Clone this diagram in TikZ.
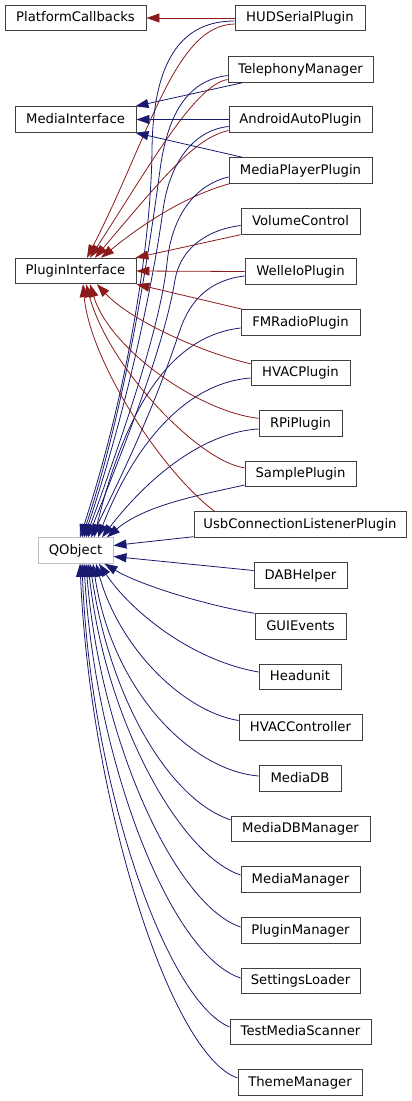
\documentclass[tikz,border=0pt]{standalone}
\usepackage{fontspec}
\setmainfont{DejaVu Sans}
\usetikzlibrary{arrows.meta,calc}
\definecolor{dxblue}{RGB}{25,25,112}
\definecolor{dxred}{RGB}{139,26,26}
\definecolor{boxline}{RGB}{64,64,64}
\definecolor{qline}{RGB}{191,191,191}
\tikzset{
  cls/.style={draw=boxline, line width=0.9pt, fill=white, inner sep=0pt,
    minimum height=25.5pt, text height=10pt, text depth=2.6pt,
    font=\fontsize{13.2}{15}\selectfont},
  qcls/.style={cls, draw=qline},
  bluarr/.style={draw=dxblue, line width=0.8pt, -{Triangle[length=13pt,width=9pt]}},
  redarr/.style={draw=dxred, line width=0.8pt, -{Triangle[length=13pt,width=9pt]}}
}
\begin{document}
\begin{tikzpicture}[x=1pt,y=-1pt]
\useasboundingbox (0,0) rectangle (412,1101);
% parents
\node[cls, minimum width=141pt] (pc) at (75.5,18) {PlatformCallbacks};
\node[cls, minimum width=121pt] (mi) at (75.5,119.5) {MediaInterface};
\node[cls, minimum width=121pt] (pi) at (75.5,271) {PluginInterface};
\node[qcls, minimum width=75pt] (qo) at (75.5,550.5) {QObject};
% children
\node[cls, minimum width=130pt] (hud) at (300,18) {HUDSerialPlugin};
\node[cls, minimum width=145pt] (tel) at (300.5,69.5) {TelephonyManager};
\node[cls, minimum width=143pt] (aap) at (300.5,119.5) {AndroidAutoPlugin};
\node[cls, minimum width=143pt] (mpp) at (300.5,170.5) {MediaPlayerPlugin};
\node[cls, minimum width=119pt] (vc) at (300.5,221.5) {VolumeControl};
\node[cls, minimum width=111pt] (wio) at (300.5,271.5) {WelleIoPlugin};
\node[cls, minimum width=119pt] (fmr) at (300.5,322.5) {FMRadioPlugin};
\node[cls, minimum width=99pt] (hvp) at (300.5,373) {HVACPlugin};
\node[cls, minimum width=83pt] (rpi) at (300.5,423.5) {RPiPlugin};
\node[cls, minimum width=111pt] (smp) at (300.5,474) {SamplePlugin};
\node[cls, minimum width=212pt] (usb) at (300,524.5) {UsbConnectionListenerPlugin};
\node[cls, minimum width=93pt] (dab) at (300.5,575.5) {DABHelper};
\node[cls, minimum width=91pt] (gui) at (300.5,626.5) {GUIEvents};
\node[cls, minimum width=82pt] (hu) at (300,677) {Headunit};
\node[cls, minimum width=123pt] (hvc) at (300.5,727.5) {HVACController};
\node[cls, minimum width=82pt] (mdb) at (300,778.5) {MediaDB};
\node[cls, minimum width=139pt] (mdbm) at (300.5,829) {MediaDBManager};
\node[cls, minimum width=119pt] (mm) at (300.5,879.5) {MediaManager};
\node[cls, minimum width=119pt] (pm) at (300.5,930.5) {PluginManager};
\node[cls, minimum width=119pt] (sl) at (300.5,981) {SettingsLoader};
\node[cls, minimum width=141pt] (tms) at (300.5,1032) {TestMediaScanner};
\node[cls, minimum width=124pt] (tm) at (300,1082.5) {ThemeManager};
% HUDSerialPlugin
\draw[redarr] (hud.west) -- (pc.east);
\draw[redarr] ($(hud.west)+(0,6)$) .. controls (175,25) and (150,135) .. ($(pi.north)+(11.5,0)$);
\draw[bluarr] ($(hud.west)+(0,3)$) .. controls (185,21) and (153,55) .. (152,150) .. controls (151,250) and (125,400) .. ($(qo.north)+(4.5,0)$);
% TelephonyManager
\draw[bluarr] ($(tel.south west)+(15,0)$) -- ($(mi.north east)+(-1,0)$);
\draw[redarr] ($(tel.west)+(0,10)$) .. controls (195,85) and (150,165) .. ($(pi.north)+(14.5,0)$);
\draw[bluarr] ($(tel.west)+(0,6)$) .. controls (190,80) and (168,110) .. (160,170) .. controls (152,230) and (128,400) .. ($(qo.north)+(6.5,0)$);
% AndroidAutoPlugin
\draw[bluarr] (aap.west) -- (mi.east);
\draw[redarr] ($(aap.west)+(0,11)$) .. controls (195,138) and (165,175) .. ($(pi.north)+(19.5,0)$);
\draw[bluarr] ($(aap.west)+(0,7)$) .. controls (195,130) and (170,160) .. (163,210) .. controls (155,270) and (130,400) .. ($(qo.north)+(8.5,0)$);
% MediaPlayerPlugin
\draw[bluarr] ($(mpp.north west)+(14,0)$) -- ($(mi.south east)+(-1,0)$);
\draw[redarr] ($(mpp.south west)+(1,0)$) .. controls (200,192) and (160,210) .. ($(pi.north)+(25.5,0)$);
\draw[bluarr] ($(mpp.west)+(0,6.5)$) .. controls (195,185) and (172,215) .. (167,263) .. controls (161,320) and (132,410) .. ($(qo.north)+(10.5,0)$);
% VolumeControl
\draw[redarr] (vc.south west) -- ($(pi.north east)+(-1,0)$);
\draw[bluarr] ($(vc.west)+(0,4)$) .. controls (205,230) and (180,250) .. (175,280) .. controls (165,340) and (135,420) .. ($(qo.north)+(12.5,0)$);
% WelleIoPlugin
\draw[redarr] (wio.west) -- (pi.east);
\draw[bluarr] ($(wio.west)+(0,4.5)$) .. controls (210,280) and (190,300) .. (180,330) .. controls (163,381) and (140,440) .. ($(qo.north)+(15.5,0)$);
% FMRadioPlugin
\draw[redarr] ($(fmr.north west)+(2,0)$) -- (pi.south east);
\draw[bluarr] ($(fmr.west)+(0,5.5)$) .. controls (180,335) and (130,390) .. ($(qo.north)+(18.5,0)$);
% HVACPlugin
\draw[redarr] ($(hvp.north west)+(0,4)$) .. controls (200,352) and (130,320) .. ($(pi.south)+(21.5,0)$);
\draw[bluarr] ($(hvp.west)+(0,5)$) .. controls (195,382) and (140,430) .. ($(qo.north)+(22.5,0)$);
% RPiPlugin
\draw[redarr] ($(rpi.north west)+(0,8)$) .. controls (200,412) and (110,350) .. ($(pi.south)+(14.5,0)$);
\draw[bluarr] ($(rpi.west)+(0,5.5)$) .. controls (205,432) and (150,475) .. ($(qo.north)+(26.5,0)$);
% SamplePlugin
\draw[redarr] ($(smp.north west)+(0,7)$) .. controls (200,462) and (110,370) .. ($(pi.south)+(10.5,0)$);
\draw[bluarr] ($(smp.west)+(0,11)$) .. controls (200,495) and (145,505) .. ($(qo.north)+(31.5,0)$);
% UsbConnectionListenerPlugin
\draw[redarr] ($(usb.north west)+(21,0)$) .. controls (160,470) and (90,360) .. ($(pi.south)+(7.5,0)$);
\draw[bluarr] ($(usb.south west)+(0,-1)$) -- ($(qo.east)+(0,-5)$);
% lower classes
\draw[bluarr] ($(dab.west)+(0,-5)$) -- ($(qo.east)+(0,6)$);
\draw[bluarr] (gui.north west) .. controls (205,605) and (140,585) .. ($(qo.south east)+(-9,0)$);
\draw[bluarr] ($(hu.west)+(0,-5)$) .. controls (190,660) and (130,610) .. ($(qo.south)+(23.5,0)$);
\draw[bluarr] ($(hvc.west)+(0,-7)$) .. controls (185,712) and (120,650) .. ($(qo.south)+(20.5,0)$);
\draw[bluarr] ($(mdb.west)+(0,-2.5)$) .. controls (190,770) and (112,690) .. ($(qo.south)+(17.5,0)$);
\draw[bluarr] ($(mdbm.north west)+(0,4)$) .. controls (170,800) and (110,700) .. ($(qo.south)+(14.5,0)$);
\draw[bluarr] ($(mm.west)+(0,-4.5)$) .. controls (180,855) and (105,720) .. ($(qo.south)+(12.5,0)$);
\draw[bluarr] ($(pm.west)+(0,-3.5)$) .. controls (175,905) and (100,740) .. ($(qo.south)+(10.5,0)$);
\draw[bluarr] ($(sl.west)+(0,-3)$) .. controls (170,955) and (95,760) .. ($(qo.south)+(8.5,0)$);
\draw[bluarr] ($(tms.west)+(0,-5)$) .. controls (165,1000) and (90,780) .. ($(qo.south)+(6.5,0)$);
\draw[bluarr] ($(tm.west)+(0,-4.5)$) .. controls (170,1055) and (90,800) .. ($(qo.south)+(4.5,0)$);
\end{tikzpicture}
\end{document}
